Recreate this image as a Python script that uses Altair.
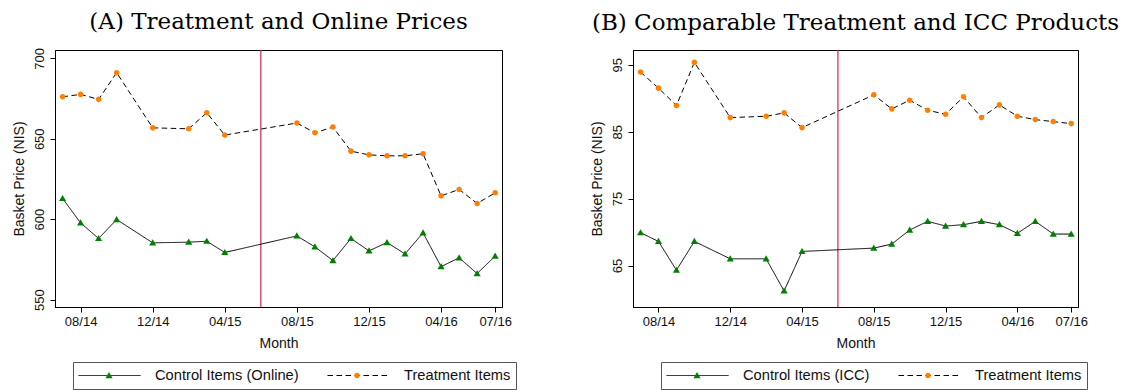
import json
import altair as alt
import pandas as pd

# ---------------- data ----------------
months = ["07/14", "08/14", "09/14", "10/14", "12/14", "02/15", "03/15", "04/15",
          "08/15", "09/15", "10/15", "11/15", "12/15", "01/16", "02/16", "03/16",
          "04/16", "05/16", "06/16", "07/16"]

a_control = [612.9, 597.7, 588.0, 599.8, 585.3, 585.7, 586.3, 579.3, 589.6, 582.8,
             574.3, 588.0, 580.3, 585.5, 578.4, 591.5, 570.5, 576.0, 566.2, 577.0]
a_treatment = [676.1, 677.6, 674.5, 691.1, 656.8, 656.2, 666.2, 652.3, 659.8, 653.7,
               657.3, 642.3, 640.0, 639.4, 639.4, 640.7, 614.5, 618.5, 609.8, 616.4]

b_control = [69.9, 68.6, 64.3, 68.6, 66.0, 66.0, 61.2, 67.1, 67.6, 68.2,
             70.3, 71.6, 70.9, 71.1, 71.6, 71.1, 69.8, 71.6, 69.7, 69.7]
b_treatment = [93.9, 91.5, 88.9, 95.35, 87.1, 87.3, 87.8, 85.6, 90.5, 88.4,
               89.7, 88.2, 87.6, 90.2, 87.1, 89.0, 87.3, 86.8, 86.5, 86.2]

tick_months = ["08/14", "12/14", "04/15", "08/15", "12/15", "04/16", "07/16"]
policy_month = "06/15"

a_title = "(A) Treatment and Online Prices"
b_title = "(B) Comparable Treatment and ICC Products"
a_control_label = "Control Items (Online)"
b_control_label = "Control Items (ICC)"
treatment_label = "Treatment Items"
x_title = "Month"
y_title = "Basket Price (NIS)"

a_yticks = [550, 600, 650, 700]
b_yticks = [65, 75, 85, 95]
a_ydomain = [545.4, 705.2]
b_ydomain = [58.8, 97.2]
x_domain = [-0.42, 24.38]

# ---------------- styles ----------------
GREEN = "#008000"
ORANGE = "#ff7f00"
RED = "#d0204f"
TRI = "M0,-0.115L0.115,0.085L-0.115,0.085Z"
CIRC = "M0.09,0A0.09,0.09,0,1,1,-0.09,0A0.09,0.09,0,1,1,0.09,0Z"
SYM = 3844  # 62px wide legend symbols
DASH = [5.5, 3.5]


def month_index(m):
    mm, yy = m.split("/")
    return (2000 + int(yy) - 2014) * 12 + int(mm) - 7


tick_idx = [month_index(m) for m in tick_months]
label_arr = [""] * 25
for m in tick_months:
    label_arr[month_index(m)] = m
label_expr = json.dumps(label_arr) + "[round(datum.value)]"


def panel(control, treatment, control_label, title, ydomain, yticks, legend_x, width):
    rows = []
    for m, c, t in zip(months, control, treatment):
        rows.append({"month": month_index(m), "price": c,
                     "item": control_label, "item2": control_label})
        rows.append({"month": month_index(m), "price": t,
                     "item": treatment_label, "item2": treatment_label})
    df = pd.DataFrame(rows)

    x = alt.X("month:Q",
              scale=alt.Scale(domain=x_domain, nice=False, zero=False),
              axis=alt.Axis(values=tick_idx, labelExpr=label_expr, title=x_title))
    y = alt.Y("price:Q",
              scale=alt.Scale(domain=ydomain, nice=False, zero=False),
              axis=alt.Axis(values=yticks, title=y_title, labelAngle=270,
                            labelAlign="center", labelBaseline="bottom"))

    common = dict(orient="none", legendX=legend_x, legendY=312, direction="horizontal",
                  title=None, symbolSize=SYM, clipHeight=17,
                  labelFont="Liberation Sans", labelFontSize=14.7, labelOffset=14,
                  columnPadding=28, padding=5, labelLimit=400)
    leg_line = alt.Legend(**common, symbolType="stroke", symbolStrokeColor="black",
                          symbolStrokeWidth=1, strokeColor="#555555", labelColor="#111111")
    leg_pts = alt.Legend(**common, labelOpacity=0, symbolStrokeWidth=0)

    rule = alt.Chart(pd.DataFrame({"month": [month_index(policy_month)]})).mark_rule(
        color=RED, strokeWidth=1.2).encode(x=x)

    base = alt.Chart(df)
    lines = base.mark_line(color="black", strokeWidth=1).encode(
        x=x, y=y,
        strokeDash=alt.StrokeDash("item:N", scale=alt.Scale(range=[[1, 0], DASH]),
                                  legend=leg_line))
    pts = base.mark_point(filled=True, size=SYM, opacity=1).encode(
        x=x, y=y,
        shape=alt.Shape("item2:N", scale=alt.Scale(range=[TRI, CIRC]), legend=leg_pts),
        fill=alt.Fill("item2:N", scale=alt.Scale(range=[GREEN, ORANGE]), legend=leg_pts))

    return alt.layer(rule, lines, pts).properties(
        width=width, height=257,
        title=alt.TitleParams(text=title, font="DejaVu Serif", fontSize=23,
                              fontWeight="normal", anchor="middle", offset=14,
                              color="black"))


pa = panel(a_control, a_treatment, a_control_label, a_title, a_ydomain, a_yticks, 18, 447)
pb = panel(b_control, b_treatment, b_control_label, b_title, b_ydomain, b_yticks, 28, 445)

chart = alt.hconcat(pa, pb, spacing=131, bounds="flush").resolve_scale(
    strokeDash="independent", shape="independent", fill="independent"
).resolve_legend(
    strokeDash="independent", shape="independent", fill="independent"
).properties(
    padding={"left": 3, "top": 2, "right": 5, "bottom": 5}
).configure_view(
    stroke="black", strokeWidth=1
).configure_axis(
    grid=False, domainColor="black", domainWidth=1, tickColor="black", tickWidth=1,
    tickSize=5, labelFont="Liberation Sans", labelFontSize=13, labelColor="#111111",
    titleFont="Liberation Sans", titleFontSize=14, titleFontWeight="normal",
    titleColor="#111111"
).configure_axisX(
    labelPadding=3, titlePadding=8
).configure_axisY(
    labelPadding=4, titlePadding=7
)

chart.save("out.html", embed_options={"renderer": "svg", "actions": False})
